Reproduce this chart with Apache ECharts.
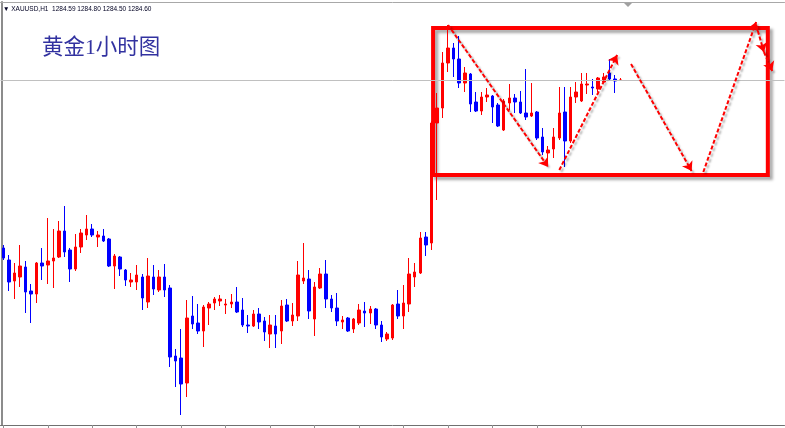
<!DOCTYPE html>
<html><head><meta charset="utf-8">
<script src="https://cdn.jsdelivr.net/npm/echarts@6/dist/echarts.min.js"></script>
<style>html,body{margin:0;padding:0;background:#fff;overflow:hidden}#c{width:785px;height:428px}</style>
</head><body><div id="c"></div>
<script>
// ---- chart values (XAUUSD H1) ----
const openP = [1267.8,1266.6,1264.5,1264.9,1265.9,1263.5,1263.2,1266.3,1266.1,1266.5,
1266.9,1269.5,1267.6,1265.7,1267.9,1269.1,1269.7,1268.9,1269.0,1268.7,
1266.0,1266.9,1265.6,1264.4,1264.4,1264.9,1262.4,1264.9,1263.6,1264.9,
1263.8,1257.0,1256.8,1254.3,1261.0,1260.3,1259.5,1261.8,1262.3,1262.5,
1262.1,1262.2,1262.4,1261.6,1260.1,1260.0,1261.2,1260.5,1259.2,1260.0,
1259.5,1262.1,1260.5,1261.0,1264.5,1264.7,1260.7,1263.8,1265.2,1262.7,
1261.8,1260.4,1260.8,1259.7,1260.3,1261.5,1261.3,1261.7,1260.1,1258.7,
1258.8,1262.2,1261.0,1262.2,1264.9,1265.3,1268.9,1268.3,1280.3,1281.8,
1286.3,1287.8,1286.7,1284.3,1285.2,1282.4,1281.5,1282.9,1283.0,1282.1,
1279.6,1282.3,1282.8,1282.4,1281.3,1281.0,1281.4,1278.9,1277.3,1277.7,
1278.8,1281.4,1278.5,1282.9,1282.5,1284.1,1283.9,1283.7,1284.4,1285.3,
1284.7,1284.59];
const closeP = [1266.8,1264.4,1265.3,1266.0,1263.4,1263.2,1266.3,1266.0,1266.5,1266.8,
1269.5,1267.4,1265.7,1267.9,1269.3,1269.7,1269.1,1269.1,1268.5,1266.0,
1267.0,1265.7,1264.6,1264.6,1265.1,1262.8,1265.0,1263.7,1264.9,1263.6,
1256.9,1256.5,1254.2,1260.8,1260.2,1259.5,1261.9,1262.2,1262.7,1262.7,
1262.2,1262.4,1261.4,1260.1,1260.0,1261.2,1260.4,1259.4,1260.1,1259.2,
1262.0,1260.5,1261.1,1265.1,1264.8,1261.5,1263.9,1265.2,1262.7,1261.8,
1260.5,1260.6,1259.5,1260.7,1261.6,1261.3,1261.7,1260.1,1258.9,1259.2,
1262.1,1261.0,1262.3,1265.2,1265.4,1268.8,1268.1,1280.3,1281.8,1286.3,
1287.8,1286.7,1284.3,1285.3,1282.2,1281.5,1282.9,1283.1,1281.9,1280.0,
1282.5,1282.8,1282.4,1281.3,1280.9,1281.3,1278.8,1277.4,1277.6,1278.9,
1281.3,1278.5,1282.9,1283.4,1284.2,1284.2,1283.8,1284.8,1284.9,1284.7,
1284.5,1284.60];
const lowP = [1266.6,1263.5,1262.7,1263.9,1261.3,1260.3,1262.3,1264.6,1264.2,1263.8,
1266.8,1266.9,1264.4,1265.5,1267.3,1268.6,1268.9,1267.9,1268.4,1265.9,
1263.7,1265.0,1264.0,1263.9,1263.6,1261.6,1261.8,1263.1,1263.4,1262.9,
1255.9,1253.9,1251.1,1252.9,1259.7,1259.2,1257.9,1260.1,1261.6,1262.0,
1261.2,1261.8,1261.3,1259.9,1259.3,1259.9,1259.7,1258.5,1257.8,1257.8,
1258.2,1260.4,1260.0,1260.5,1264.2,1260.7,1259.0,1263.7,1261.8,1261.4,
1260.0,1259.7,1259.4,1259.3,1260.1,1259.9,1260.2,1259.7,1258.4,1258.5,
1258.6,1260.7,1259.7,1261.4,1263.9,1265.2,1267.0,1267.6,1272.6,1280.8,
1285.4,1284.9,1283.8,1283.4,1281.4,1281.4,1281.1,1282.4,1280.3,1279.9,
1279.5,1281.6,1281.3,1281.2,1280.6,1280.9,1278.6,1277.1,1276.6,1276.8,
1278.6,1275.9,1278.3,1282.3,1282.4,1283.2,1283.1,1283.4,1284.3,1284.6,
1283.3,1284.50];
const highP = [1268.1,1267.1,1266.3,1268.1,1266.5,1264.2,1266.4,1267.8,1270.8,1269.7,
1270.5,1272.0,1267.8,1269.2,1269.7,1271.1,1270.2,1269.5,1269.7,1268.8,
1267.2,1267.0,1265.7,1265.3,1266.1,1265.2,1266.8,1266.1,1265.6,1266.2,
1264.1,1257.7,1259.7,1262.6,1263.0,1262.2,1262.1,1262.4,1262.9,1263.1,
1262.7,1263.2,1263.9,1262.8,1261.1,1261.6,1261.8,1260.9,1261.1,1261.1,
1262.6,1262.7,1262.3,1266.5,1268.3,1265.6,1264.4,1265.8,1266.6,1263.1,
1263.3,1261.0,1260.9,1260.8,1262.2,1262.4,1262.0,1261.8,1260.5,1259.4,
1262.2,1263.6,1264.1,1266.8,1266.3,1269.4,1269.4,1280.5,1283.3,1287.4,
1290.1,1288.3,1289.0,1285.9,1285.3,1283.4,1283.4,1283.8,1283.1,1282.3,
1282.7,1284.2,1283.2,1283.5,1285.7,1284.3,1281.5,1279.8,1278.0,1279.8,
1283.9,1283.9,1283.9,1284.4,1285.3,1285.3,1284.7,1284.9,1285.3,1286.7,
1285.1,1284.80];
const bidPrice = 1284.60;
const headerText = '▼ XAUUSD,H1  1284.59 1284.80 1284.50 1284.60';
const titleText = '黄金1小时图';
// drawn annotations, in (bar slot, price) units
const boxCorners = [[77.8, 1289.8], [138.0, 1275.1]];
const arrowPaths = [
  [[80.5, 1290.1], [98.5, 1275.9]],
  [[100.5, 1275.6], [110.9, 1287.1]],
  [[113.4, 1286.2], [124.3, 1275.5]],
  [[126.4, 1275.4], [135.9, 1290.4]],
  [[135.9, 1290.1], [137.3, 1287.4]],
  [[137.3, 1287.4], [138.8, 1285.5]]
];
const slotCount = 141;   // bars + chart shift space
const tickEvery = 8;

// category labels (hourly)
const categories = [];
for (let i = 0; i < slotCount; i++) {
  const d = 15 + Math.floor((i + 8) / 24);
  const h = (i + 8) % 24;
  categories.push('4.' + d + ' ' + (h < 10 ? '0' : '') + h + ':00');
}
const candles = openP.map((o, i) => [o, closeP[i], lowP[i], highP[i]]);

const chart = echarts.init(document.getElementById('c'));
chart.setOption({
  animation: false,
  backgroundColor: '#ffffff',
  title: [
    { text: headerText, left: 3, top: 6, padding: 0,
      textStyle: { fontSize: 6.5, fontWeight: 'normal', color: '#000022', fontFamily: 'Liberation Sans' } },
    { text: titleText, left: 42, top: 38, padding: 0,
      textStyle: { fontSize: 21.5, fontWeight: 'normal', color: '#3232a0',
        fontFamily: "'Liberation Serif', 'Noto Sans CJK SC', serif" } }
  ],
  grid: { left: 0.5, right: 0.5, top: 2, bottom: 3, containLabel: false },
  xAxis: [
    { type: 'category', data: categories, boundaryGap: true,
      axisLine: { show: true, lineStyle: { color: '#707070', width: 1 } },
      axisTick: { show: true, alignWithLabel: true, length: 4,
        interval: (idx) => idx % tickEvery === 0 && idx < openP.length,
        lineStyle: { color: '#909090' } },
      axisLabel: { show: false }, splitLine: { show: false } },
    { type: 'value', min: 0, max: slotCount, position: 'top',
      axisLine: { show: true, onZero: false, lineStyle: { color: '#a8a8a8', width: 1 } },
      axisTick: { show: false }, axisLabel: { show: false }, splitLine: { show: false } }
  ],
  yAxis: [{ type: 'value', min: 1250.1, max: 1292.4, offset: -1.5,
    axisLine: { show: true, onZero: false, lineStyle: { color: '#8c8c8c', width: 2 } },
    axisTick: { show: false }, axisLabel: { show: false }, splitLine: { show: false } }],
  series: [
    { type: 'candlestick', xAxisIndex: 0, yAxisIndex: 0, data: candles, barWidth: 3,
      itemStyle: { color: '#ff0000', color0: '#0000ff', borderColor: '#ff0000', borderColor0: '#0000ff', borderWidth: 1 },
      emphasis: { disabled: true },
      markLine: { silent: true, symbol: ['none', 'none'], label: { show: false },
        lineStyle: { color: '#c0c0c0', width: 1, type: 'solid' },
        data: [{ yAxis: bidPrice }] }
    },
    { type: 'line', xAxisIndex: 1, yAxisIndex: 0, data: [], symbol: 'none', silent: true,
      markArea: { silent: true, label: { show: false },
        itemStyle: { color: 'rgba(0,0,0,0)', borderColor: '#ff0000', borderWidth: 4,
          shadowColor: 'rgba(0,0,0,0.35)', shadowBlur: 3, shadowOffsetX: 3, shadowOffsetY: 3 },
        data: [[{ coord: boxCorners[0] }, { coord: boxCorners[1] }]] },
      markLine: { silent: true, symbol: ['none', 'arrow'], symbolSize: 9, label: { show: false },
        lineStyle: { color: '#ff0000', width: 2, type: [4, 2],
          shadowColor: 'rgba(0,0,0,0.3)', shadowBlur: 2, shadowOffsetX: 2, shadowOffsetY: 2 },
        data: arrowPaths.map(p => [{ coord: p[0] }, { coord: p[1] }]) }
    }
  ],
  graphic: [{ type: 'polygon', shape: { points: [[624, 3], [632, 3], [628, 7]] }, style: { fill: '#a0a0a0' } }]
});
</script></body></html>
